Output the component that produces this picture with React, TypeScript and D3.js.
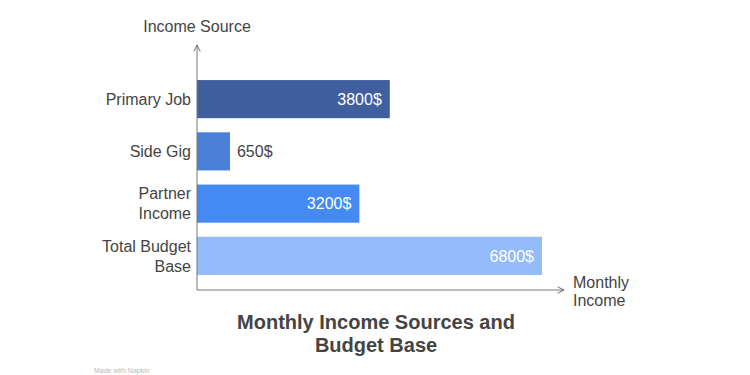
import * as d3 from "d3";

const categories = ["Primary Job", "Side Gig", "Partner Income", "Total Budget Base"];
const labelLines = [["Primary Job"], ["Side Gig"], ["Partner", "Income"], ["Total Budget", "Base"]];
const values = [3800, 650, 3200, 6800];
const barColors = ["#405f9e", "#4a80d8", "#4589f2", "#94bbfa"];

const font = "'Liberation Sans', Arial, Helvetica, sans-serif";
const textColor = "#444";

export default function App() {
  const width = 750;
  const height = 375;
  const x0 = 197;
  const yBottom = 290;

  const x = d3.scaleLinear().domain([0, 6800]).range([x0, 542]);
  const y = d3.scaleBand().domain(categories).range([73, 282]).paddingInner(0.27).paddingOuter(0.135);

  return (
    <svg width={width} height={height} style={{ position: "absolute", left: 0, top: 0, background: "#fff" }} fontFamily={font}>
      <defs>
        <marker id="arr" viewBox="0 0 10 10" refX="9" refY="5" markerWidth="8" markerHeight="8" orient="auto-start-reverse">
          <path d="M1,1 L9,5 L1,9" fill="none" stroke="#666" strokeWidth="1.2" />
        </marker>
      </defs>

      {categories.map((c, i) => {
        const by = y(c)!;
        const bh = y.bandwidth();
        const xe = x(values[i]);
        const inside = xe - x0 > 60;
        const lines = labelLines[i];
        const cy = by + bh / 2;
        return (
          <g key={c}>
            <rect x={x0} y={by} width={xe - x0} height={bh} fill={barColors[i]} />
            <text
              x={inside ? xe - 8 : xe + 7}
              y={cy}
              dy="0.36em"
              textAnchor={inside ? "end" : "start"}
              fill={inside ? "#fff" : textColor}
              fontSize={16}
            >
              {values[i]}$
            </text>
            {lines.map((l, j) => (
              <text
                key={l}
                x={x0 - 6}
                y={cy + (j - (lines.length - 1) / 2) * 20}
                dy="0.36em"
                textAnchor="end"
                fill={textColor}
                fontSize={16}
              >
                {l}
              </text>
            ))}
          </g>
        );
      })}

      <line x1={x0} y1={yBottom} x2={x0} y2={45} stroke="#777" strokeWidth={1} markerEnd="url(#arr)" />
      <line x1={x0} y1={yBottom} x2={564} y2={yBottom} stroke="#777" strokeWidth={1} markerEnd="url(#arr)" />

      <text x={x0} y={32} textAnchor="middle" fill={textColor} fontSize={16}>Income Source</text>
      <text x={573} y={288} fill={textColor} fontSize={16}>Monthly</text>
      <text x={573} y={306} fill={textColor} fontSize={16}>Income</text>

      <text x={376} y={329} textAnchor="middle" fill={textColor} fontSize={20} fontWeight="bold">Monthly Income Sources and</text>
      <text x={376} y={352} textAnchor="middle" fill={textColor} fontSize={20} fontWeight="bold">Budget Base</text>

      <text x={94} y={373} fill="#bbb" fontSize={7}>Made with Napkin</text>
    </svg>
  );
}
